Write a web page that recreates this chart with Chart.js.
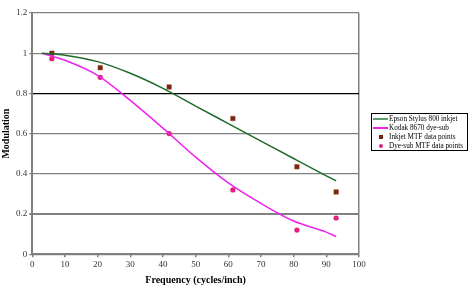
<!DOCTYPE html>
<html>
<head>
<meta charset="utf-8">
<script src="https://cdn.jsdelivr.net/npm/chart.js@4"></script>
<style>
  html, body { margin: 0; padding: 0; background: #fff; }
  #wrap { width: 473px; height: 292px; }
</style>
</head>
<body>
<div id="wrap"><canvas id="mtf-chart" width="473" height="292"></canvas></div>
<script>
// Data
const curveFreq = [3, 10, 20, 30, 40, 50, 60, 70, 80, 90, 93];
const inkjetCurve = [1.0, 0.99, 0.958, 0.9, 0.825, 0.737, 0.65, 0.563, 0.476, 0.39, 0.365];
const dyeSubCurve = [1.0, 0.965, 0.89, 0.765, 0.627, 0.483, 0.355, 0.253, 0.165, 0.11, 0.088];

const pointFreq = [6, 20.8, 41.9, 61.4, 81, 93];
const inkjetPoints = [1.0, 0.928, 0.832, 0.675, 0.435, 0.31];
const dyeSubPoints = [0.973, 0.88, 0.6, 0.32, 0.12, 0.18];

const seriesNames = ['Epson Stylus 800 inkjet', 'Kodak 8670 dye-sub', 'Inkjet MTF data points', 'Dye-sub MTF data points'];
const xTitle = 'Frequency (cycles/inch)';
const yTitle = 'Modulation';

const green = '#1f6b2a';
const magenta = '#ee22ee';
const brown = '#6e2a14';
const pink = '#e0207a';

const toXY = (xs, ys) => xs.map((x, i) => ({ x: x, y: ys[i] }));
const fmtTick = v => String(+v.toFixed(1));

// boxed legend at the right, drawn next to the plot like the original
const boxLegend = {
    id: 'boxLegend',
    afterDraw(chart) {
        const ctx = chart.ctx;
        const left = chart.chartArea.right + 12;
        const top = 113;
        const rowH = 9;
        const sets = chart.data.datasets;
        ctx.save();
        ctx.strokeStyle = '#000';
        ctx.lineWidth = 1;
        ctx.strokeRect(left + 0.5, top + 0.5, 96, rowH * sets.length + 1);
        ctx.font = '7.2px "Liberation Serif"';
        ctx.textBaseline = 'middle';
        sets.forEach((ds, i) => {
            const y = top + 6 + i * rowH;
            if (ds.showLine) {
                ctx.strokeStyle = i === 0 ? '#5f9c6c' : ds.borderColor;
                ctx.lineWidth = 2;
                ctx.beginPath();
                ctx.moveTo(left + 2, y);
                ctx.lineTo(left + 17, y);
                ctx.stroke();
            } else if (ds.pointStyle === 'rect') {
                ctx.fillStyle = ds.backgroundColor;
                ctx.fillRect(left + 8, y - 2, 4, 4);
            } else {
                ctx.fillStyle = ds.backgroundColor;
                ctx.beginPath();
                ctx.arc(left + 10, y, 2, 0, Math.PI * 2);
                ctx.fill();
            }
            ctx.fillStyle = '#000';
            ctx.fillText(ds.label, left + 18, y);
        });
        ctx.restore();
    }
};

const ctx = document.getElementById('mtf-chart').getContext('2d');
new Chart(ctx, {
    type: 'scatter',
    data: {
        datasets: [
            {
                label: seriesNames[0],
                data: toXY(curveFreq, inkjetCurve),
                showLine: true,
                borderColor: green,
                borderWidth: 1.5,
                pointRadius: 0,
                cubicInterpolationMode: 'monotone'
            },
            {
                label: seriesNames[1],
                data: toXY(curveFreq, dyeSubCurve),
                showLine: true,
                borderColor: magenta,
                borderWidth: 1.5,
                pointRadius: 0,
                cubicInterpolationMode: 'monotone'
            },
            {
                label: seriesNames[2],
                data: toXY(pointFreq, inkjetPoints),
                pointStyle: 'rect',
                pointRadius: 3.2,
                backgroundColor: brown,
                borderColor: '#b03a20',
                borderWidth: 0.5
            },
            {
                label: seriesNames[3],
                data: toXY(pointFreq, dyeSubPoints),
                pointStyle: 'circle',
                pointRadius: 2.6,
                backgroundColor: pink,
                borderColor: pink,
                borderWidth: 0
            }
        ]
    },
    options: {
        responsive: false,
        animation: false,
        layout: { padding: { top: 13, right: 114, left: 0, bottom: 6 } },
        plugins: {
            tooltip: { enabled: false },
            legend: { display: false }
        },
        scales: {
            x: {
                type: 'linear',
                min: 0,
                max: 100,
                ticks: { stepSize: 10, color: '#333', font: { family: 'Liberation Serif', size: 9 }, padding: 2 },
                grid: {
                    color: c => c.tick && c.tick.value === 100 ? '#808080' : 'rgba(0,0,0,0)',
                    tickColor: '#808080',
                    tickLength: 3,
                    lineWidth: 1.5
                },
                border: { color: '#808080', width: 2 },
                title: { display: true, text: xTitle, color: '#000', font: { family: 'Liberation Serif', size: 10, weight: 'bold' }, padding: { top: 2, bottom: 0 } }
            },
            y: {
                min: 0,
                max: 1.2,
                ticks: { stepSize: 0.2, color: '#333', font: { family: 'Liberation Serif', size: 9 }, padding: 2, callback: fmtTick },
                grid: {
                    color: c => (c.tick && Math.abs(c.tick.value - 0.8) < 1e-6) ? '#000' : '#808080',
                    lineWidth: c => (c.tick && Math.abs(c.tick.value - 0.2) < 1e-6) ? 2 : 1.2,
                    tickColor: '#808080',
                    tickLength: 3
                },
                border: { color: '#808080', width: 2 },
                title: { display: true, text: yTitle, color: '#000', font: { family: 'Liberation Serif', size: 10, weight: 'bold' }, padding: { top: 0, bottom: 2 } }
            }
        }
    },
    plugins: [boxLegend]
});
</script>
</body>
</html>
